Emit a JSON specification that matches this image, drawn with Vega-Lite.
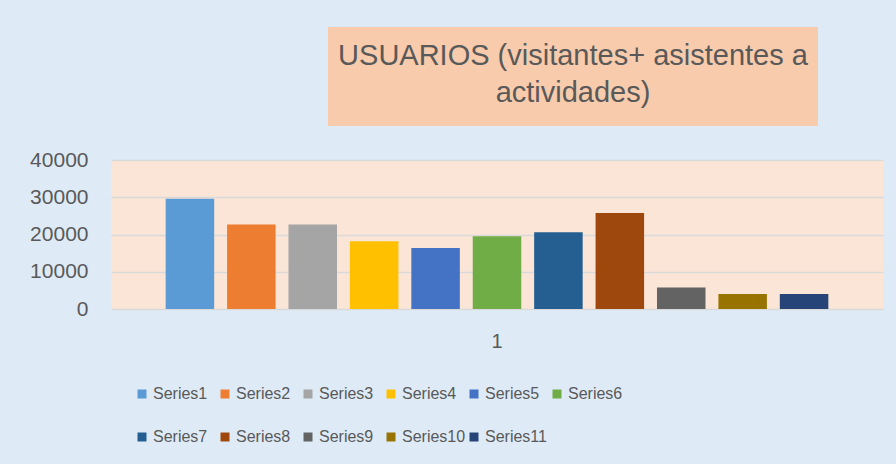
{
  "$schema": "https://vega.github.io/schema/vega-lite/v6.json",
  "background": "#DEEBF7",
  "padding": {"left": 29, "top": 27, "right": 14, "bottom": 20},
  "config": {"view": {"stroke": null}, "font": "Liberation Sans"},
  "datasets": {
    "bars": [
      {"cat": "1", "series": "Series1", "value": 29600},
      {"cat": "1", "series": "Series2", "value": 22700},
      {"cat": "1", "series": "Series3", "value": 22700},
      {"cat": "1", "series": "Series4", "value": 18200},
      {"cat": "1", "series": "Series5", "value": 16400},
      {"cat": "1", "series": "Series6", "value": 19500},
      {"cat": "1", "series": "Series7", "value": 20600},
      {"cat": "1", "series": "Series8", "value": 25800},
      {"cat": "1", "series": "Series9", "value": 5800},
      {"cat": "1", "series": "Series10", "value": 4000},
      {"cat": "1", "series": "Series11", "value": 4000}
    ],
    "one": [{"k": 1}]
  },
  "spacing": 23,
  "vconcat": [
    {
      "spacing": 0,
      "hconcat": [
        {
          "width": 217, "height": 99,
          "data": {"name": "one"},
          "mark": {"type": "text", "text": ""},
          "encoding": {}
        },
        {
          "width": 490, "height": 99,
          "view": {"fill": "#F8CBAD", "stroke": null},
          "data": {"name": "one"},
          "mark": {"type": "text", "text": ["USUARIOS (visitantes+ asistentes a", "actividades)"], "fontSize": 29, "lineHeight": 37, "color": "#595959", "align": "center", "baseline": "middle", "dy": -21},
          "encoding": {}
        }
      ]
    },
    {
      "width": 772, "height": 149,
      "view": {"fill": "#FBE5D6", "stroke": null},
      "data": {"name": "bars"},
      "mark": {"type": "bar"},
      "encoding": {
        "x": {"field": "cat", "type": "nominal", "scale": {"paddingInner": 0, "paddingOuter": 0},
              "axis": {"title": null, "labelAngle": 0, "ticks": false, "domain": false, "labelFontSize": 20, "labelColor": "#595959", "labelPadding": 22}},
        "xOffset": {"field": "series", "type": "nominal",
                    "sort": ["Series1","Series2","Series3","Series4","Series5","Series6","Series7","Series8","Series9","Series10","Series11"],
                    "scale": {"paddingInner": 0.21, "paddingOuter": 0.89}},
        "y": {"field": "value", "type": "quantitative", "scale": {"domain": [0, 40000], "nice": false},
              "axis": {"title": null, "values": [0, 10000, 20000, 30000, 40000], "format": "d", "grid": true, "gridColor": "#D9D9D9", "gridWidth": 1.5, "ticks": false, "domain": false, "labelFontSize": 21, "labelColor": "#595959", "labelPadding": 23}},
        "color": {"field": "series", "type": "nominal",
                  "scale": {"domain": ["Series1","Series2","Series3","Series4","Series5","Series6","Series7","Series8","Series9","Series10","Series11"],
                            "range": ["#5B9BD5","#ED7D31","#A5A5A5","#FFC000","#4472C4","#70AD47","#255E91","#9E480E","#636363","#997300","#264478"]},
                  "legend": {"title": null, "orient": "none", "legendX": 23, "legendY": 359, "direction": "horizontal", "columns": 6, "gridAlign": "all", "columnPadding": 0, "rowPadding": 27, "symbolType": "square", "symbolSize": 81, "symbolStrokeWidth": 0, "labelOffset": 3, "labelFontSize": 16, "labelColor": "#595959", "padding": 0}}
      }
    }
  ]
}
